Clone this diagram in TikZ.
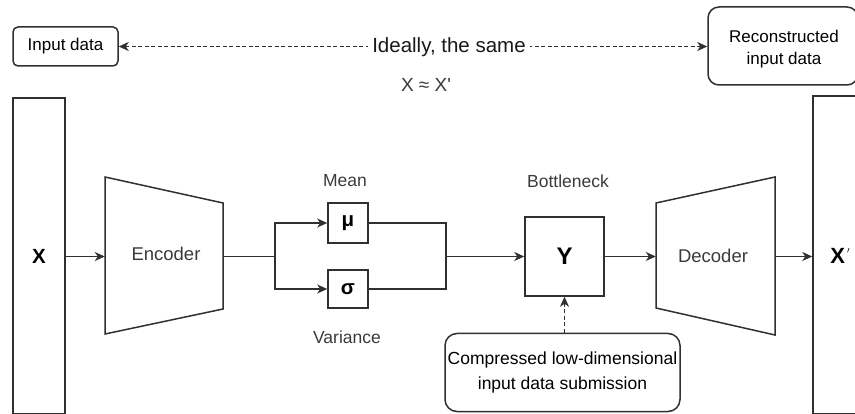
\documentclass[tikz,border=0pt]{standalone}
\usepackage{fontspec}
\setmainfont{Liberation Sans}[Ligatures=TeXOff]
\usetikzlibrary{arrows.meta}
\definecolor{linec}{HTML}{303030}
\definecolor{txtc}{HTML}{3A3A3A}
\tikzset{
  >={Stealth[length=10pt,width=9pt,inset=3pt]},
  conn/.style={draw=linec, line width=1.5pt, ->},
  plainline/.style={draw=linec, line width=1.5pt},
  dashconn/.style={draw=linec, line width=1.2pt, dash pattern=on 4pt off 2.5pt},
  box/.style={draw=linec, line width=1.5pt, fill=white, inner sep=0pt},
  rbox/.style={box, rounded corners=#1, align=center, text=black},
  lbl/.style={text=txtc, font=\fontsize{17.5}{20}\selectfont, inner sep=1pt},
  sym/.style={font=\fontsize{20.5}{24}\selectfont\bfseries, text=black}
}
\begin{document}
\begin{tikzpicture}[x=1pt, y=-1pt]
\useasboundingbox (0,0) rectangle (855,414);

% input and output columns
\node[box, minimum width=52pt, minimum height=316pt, sym] (X) at (39,256) {X};
\node[box, minimum width=54pt, minimum height=318pt] (Xp) at (840,255) {};
\node[sym, font=\fontsize{22}{24}\selectfont\bfseries, anchor=center] (Xplab) at (840,256)
  {X\kern2pt\raisebox{10.5pt}{\fontsize{9}{9}\selectfont$\prime$}};

% encoder trapezium
\node[minimum width=118pt, minimum height=106pt, inner sep=0pt] (enc) at (164,256.5) {};
\draw[plainline] (105,177) -- (223,203) -- (223,309) -- (105,334) -- cycle;
\node[lbl, font=\fontsize{18.5}{21}\selectfont] (enclab) at (166,254) {Encoder};

% mean and variance branches
\coordinate (split) at (275,256.5);
\node[box, minimum width=40pt, minimum height=40pt, sym] (mu) at (348,223) {μ};
\node[box, minimum width=40pt, minimum height=38pt, sym] (sigma) at (348,289) {σ};
\coordinate (merge) at (446,256.5);
\node[lbl] (mean) at (345,181) {Mean};
\node[lbl] (var) at (347,337) {Variance};

% bottleneck
\node[box, minimum width=79pt, minimum height=79pt, sym, font=\fontsize{24}{26}\selectfont\bfseries] (Y) at (564.5,256.5) {Y};
\node[lbl] (bneck) at (568,181) {Bottleneck};
\node[rbox=12pt, minimum width=235pt, minimum height=78pt,
      font=\fontsize{17.5}{25}\selectfont] (comp) at (562.5,372.5)
      {Compressed low-dimensional\\input data submission};

% decoder trapezium
\node[minimum width=119pt, minimum height=106pt, inner sep=0pt] (dec) at (715.5,256.5) {};
\draw[plainline] (656,203) -- (775,177) -- (775,335) -- (656,308) -- cycle;
\node[lbl, font=\fontsize{18.5}{21}\selectfont] (declab) at (713,256) {Decoder};

% top annotation
\node[rbox=5pt, minimum width=105pt, minimum height=39pt,
      font=\fontsize{17}{20}\selectfont] (inp) at (65.5,46.5) {Input data};
\node[rbox=11pt, minimum width=150pt, minimum height=78pt,
      font=\fontsize{17}{22}\selectfont] (rec) at (783,46) {};
\node[font=\fontsize{17}{22}\selectfont, align=center] (reclab) at (784,49) {Reconstructed\\input data};
\draw[dashconn, <->] (inp.east) -- (inp.east -| rec.west);
\node[fill=white, inner xsep=4pt, inner ysep=2pt, text=black!90,
      font=\fontsize{20.5}{24}\selectfont] (ideal) at (449,47) {Ideally, the same};
\node[text=txtc, font=\fontsize{19}{22}\selectfont] (approx) at (426,85) {X ≈ X'};

% flow connectors
\draw[conn] (X.east |- enc.west) -- (enc.west);
\draw[plainline] (enc.east) -- (split);
\draw[conn] (split) |- (mu.west);
\draw[conn] (split) |- (sigma.west);
\draw[plainline] (mu.east) -| (merge);
\draw[plainline] (sigma.east) -| (merge);
\draw[conn] (merge) -- (Y.west);
\draw[conn] (Y.east) -- (dec.west);
\draw[conn] (dec.east) -- (Xp.west |- dec.east);
\draw[dashconn, ->] (Y.south |- comp.north) -- (Y.south);
\end{tikzpicture}
\end{document}
